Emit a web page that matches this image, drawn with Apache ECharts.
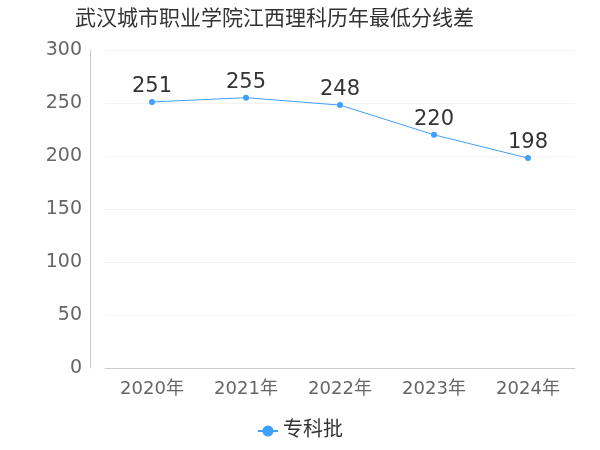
<!DOCTYPE html>
<html>
<head>
<meta charset="utf-8">
<script src="https://cdn.jsdelivr.net/npm/echarts@6/dist/echarts.min.js"></script>
<style>html,body{margin:0;padding:0;}#chart{width:600px;height:450px;}</style>
</head>
<body>
<div id="chart"></div>
<script>
var years = ['2020年', '2021年', '2022年', '2023年', '2024年'];
var values = [251, 255, 248, 220, 198];
var seriesName = '专科批';
var titleText = '武汉城市职业学院江西理科历年最低分线差';

var chart = echarts.init(document.getElementById('chart'));
chart.setOption({
    textStyle: { fontFamily: 'DejaVu Sans, Noto Sans CJK SC' },
    title: {
        text: titleText,
        left: 70,
        top: 4,
        textStyle: { fontSize: 21, fontWeight: 'normal', color: '#333' }
    },
    legend: {
        data: [seriesName],
        bottom: 4,
        itemWidth: 20,
        textStyle: { fontSize: 20, color: '#333' }
    },
    grid: { top: 50, bottom: 82, left: 105, right: 25 },
    xAxis: {
        type: 'category',
        data: years,
        axisTick: { show: false },
        axisLine: { lineStyle: { color: '#ccc' } },
        axisLabel: { fontSize: 18, color: '#666', margin: 12 }
    },
    yAxis: {
        type: 'value',
        min: 0,
        max: 300,
        interval: 50,
        offset: 15,
        axisLine: { show: true, lineStyle: { color: '#ccc' } },
        axisLabel: { fontSize: 19, color: '#666' },
        splitLine: { lineStyle: { color: '#f3f3f3' } }
    },
    series: [{
        name: seriesName,
        type: 'line',
        data: values,
        symbol: 'circle',
        symbolSize: 6,
        itemStyle: { color: '#3fa0ff' },
        lineStyle: { width: 1 },
        label: { show: true, position: 'top', distance: 2, fontSize: 21, color: '#333' }
    }]
});
</script>
</body>
</html>
